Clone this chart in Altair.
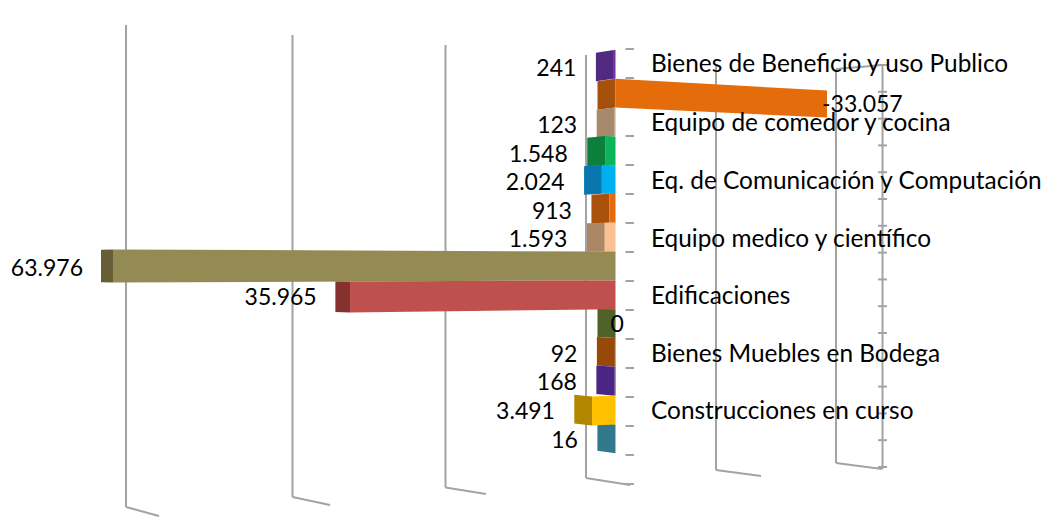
import altair as alt
import numpy as np
import pandas as pd

# ---- chart values ----
values = [241, -33057, 123, 1548, 2024, 913, 1593, 63976, 35965, 0, 92, 168, 3491, 16]
front_colors = ["#7030A0", "#E46C0A", "#C3A27E", "#0DB55A", "#00B0F0", "#E46C0A", "#FAC090",
                "#948A54", "#C0504D", "#4F6228", "#984807", "#4B2583", "#FFC000", "#31788C"]
side_colors = ["#4F2A80", "#A5500B", "#A68A6C", "#0B7F3C", "#0A76B0", "#A9500D", "#AB8766",
               "#675E36", "#84312F", "#4F6228", "#984807", "#4B2583", "#B38600", "#31788C"]
categories = ["Bienes de Beneficio y uso Publico", "Equipo de comedor y cocina",
              "Eq. de Comunicación y Computación", "Equipo medico y científico",
              "Edificaciones", "Bienes Muebles en Bodega", "Construcciones en curso"]
category_rows = [0.53, 2.58, 4.58, 6.58, 8.58, 10.58, 12.58]

# ---- frame ----
W, H = 1033, 509
ROW0, ROWH = 50.0, 28.8
OX = 8
# value -> page pixel (perspective makes this piecewise)
xdom = [-100000, -33057, 0, 3491, 35965, 63976, 80000]
xpix = [1256, 827, 615.5, 592, 350, 113, -23]
asc = np.array(xpix[::-1], float)
vasc = np.array(xdom[::-1], float)
def px(v): return float(np.interp(v, xdom, xpix))
def val(p): return float(np.interp(p, asc, vasc))
def row(py): return (py - ROW0) / ROWH
x_scale = alt.Scale(domain=xdom, range=[p - OX for p in xpix], nice=False, zero=False, clamp=False)
y_scale = alt.Scale(domain=[-1, 16], range=[ROW0 - ROWH - OX, ROW0 + 16 * ROWH - OX], nice=False, zero=False)
X = lambda f: alt.X(f, type="quantitative", scale=x_scale, axis=None)
Y = lambda f: alt.Y(f, type="quantitative", scale=y_scale, axis=None)

# ---- faces ----
front, side, lab_r, lab_l = [], [], [], []
def edge(e, p):
    return e + 0.0085 * (7.5 - e) * (p - 615.5) / ROWH
for i, v in enumerate(values):
    end = px(v)
    depth = 18 - 6 * max(v, 0) / 63976
    left = min(end, 615.5)
    # front face
    if v != 0:
        for p in (min(end, 615.5), max(end, 615.5)):
            front.append(dict(bar=i, x=val(p), y=edge(i, p), y2=edge(i + 1, p), c=front_colors[i]))
    # side face
    top, bot = edge(i, left), edge(i + 1, left)
    for p, t, b in ((left - depth, top + (7.5 - i) * 0.38 / ROWH, bot + (6.5 - i) * 0.38 / ROWH), (left, top, bot)):
        side.append(dict(bar=i, x=val(p), y=t, y2=b, c=side_colors[i]))
    text = f"{v:,}".replace(",", ".")
    if v > 0:
        gap = 19.5 - 1.5 * v / 63976
        lab_r.append(dict(x=val(left - depth - gap), y=i + 0.56 + 0.1 * (13 - i) / 13, t=text))
    else:
        lab_l.append(dict(x=v, y=i + (0.92 if v < 0 else 0.56), t=text))

# ---- depth grid ----
grid_x = [126, 292.5, 445.5, 586, 716, 836]
grid_top = [25, 35, 45, 55, 65, 69]
grid_bot = [507, 497, 487.5, 478, 470, 463]
foot_x = [159, 330, 486, 630, 761, 882]
foot_y = [516, 505, 494, 485, 476, 469]
segs = []
def seg(a, b, c, d):
    segs.append(dict(x=val(a), x2=val(c), y=row(b), y2=row(d)))
for gx, t, b, fx, fy in zip(grid_x, grid_top, grid_bot, foot_x, foot_y):
    seg(gx, t, gx, b)
    seg(gx, b, fx, fy)
seg(882.5, 65, 882.5, 469)
seg(836, 69, 882.5, 65)
for k in range(16):
    seg(625.5, 49 + k * 29.0, 634, 49 + k * 29.0)
    seg(878, 65 + k * 26.8, 887, 65 + k * 26.8)

grid = alt.Chart(pd.DataFrame(segs)).mark_rule(color="#A3A3A3", strokeWidth=2).encode(
    x=X("x"), x2="x2", y=Y("y"), y2="y2")

def faces(rows):
    df = pd.DataFrame(rows)
    layers = []
    for b, g in df.groupby("bar"):
        layers.append(alt.Chart(g).mark_area(color=g["c"].iloc[0], interpolate="linear", orient="vertical", clip=False).encode(
            x=X("x"), y=Y("y"), y2="y2"))
    return layers

FONT = "Lato"
FS = 24.4
FSN = 23
cats = pd.DataFrame(dict(x=[val(651)] * len(categories), y=category_rows, t=categories))
cat_text = alt.Chart(cats).mark_text(font=FONT, fontSize=FS, align="left", baseline="middle", color="#000").encode(
    x=X("x"), y=Y("y"), text="t:N")
rtext = alt.Chart(pd.DataFrame(lab_r)).mark_text(font=FONT, fontSize=FSN, align="right", baseline="middle", color="#000").encode(
    x=X("x"), y=Y("y"), text="t:N")
ltext = alt.Chart(pd.DataFrame(lab_l)).mark_text(font=FONT, fontSize=FSN, align="left", baseline="middle", dx=-5, color="#000").encode(
    x=X("x"), y=Y("y"), text="t:N")

layers = [grid] + faces(side) + faces(front) + [cat_text, rtext, ltext]
chart = alt.layer(*layers).properties(
    width=W, height=H, padding=0, autosize=alt.AutoSizeParams(type="none"), background="white"
).configure_view(stroke=None)

chart.save("out.html", embed_options={"renderer": "svg", "actions": False})
